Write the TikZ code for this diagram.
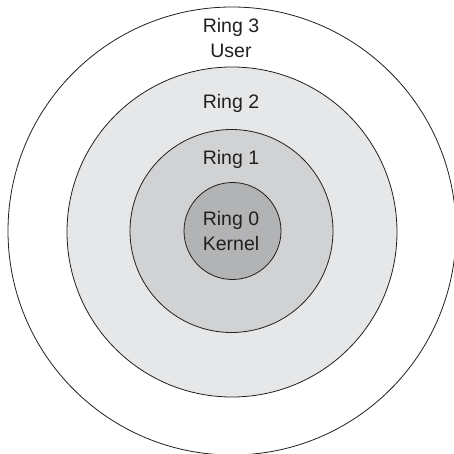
\documentclass[tikz,border=0pt]{standalone}
\usepackage{fontspec}
\setmainfont{Liberation Sans}
\definecolor{ringtwo}{RGB}{230,231,232}
\definecolor{ringone}{RGB}{209,210,212}
\definecolor{ringzero}{RGB}{178,179,181}
\definecolor{inkc}{RGB}{35,31,32}
\tikzset{
  ring/.style={circle, draw=inkc, line width=0.8pt, inner sep=0pt},
  lbl/.style={anchor=base, inner sep=0pt, text=inkc, font=\fontsize{19.5}{24}\selectfont}
}
\begin{document}
\begin{tikzpicture}[x=1pt,y=-1pt]
\useasboundingbox (0,0) rectangle (453,454);
\node[ring, fill=white, minimum size=448pt] (r3) at (232,231) {};
\node[ring, fill=ringtwo, minimum size=330pt] (r2) at (232,232) {};
\node[ring, fill=ringone, minimum size=203pt] (r1) at (231.5,231) {};
\node[ring, fill=ringzero, minimum size=97pt] (r0) at (232.5,231) {};
\node[lbl] (t3a) at (231,32.5) {Ring 3};
\node[lbl] (t3b) at (231,57.5) {User};
\node[lbl] (t2) at (231,109) {Ring 2};
\node[lbl] (t1) at (231,165) {Ring 1};
\node[lbl] (t0a) at (231,225) {Ring 0};
\node[lbl] (t0b) at (231,250) {Kernel};
\end{tikzpicture}
\end{document}
